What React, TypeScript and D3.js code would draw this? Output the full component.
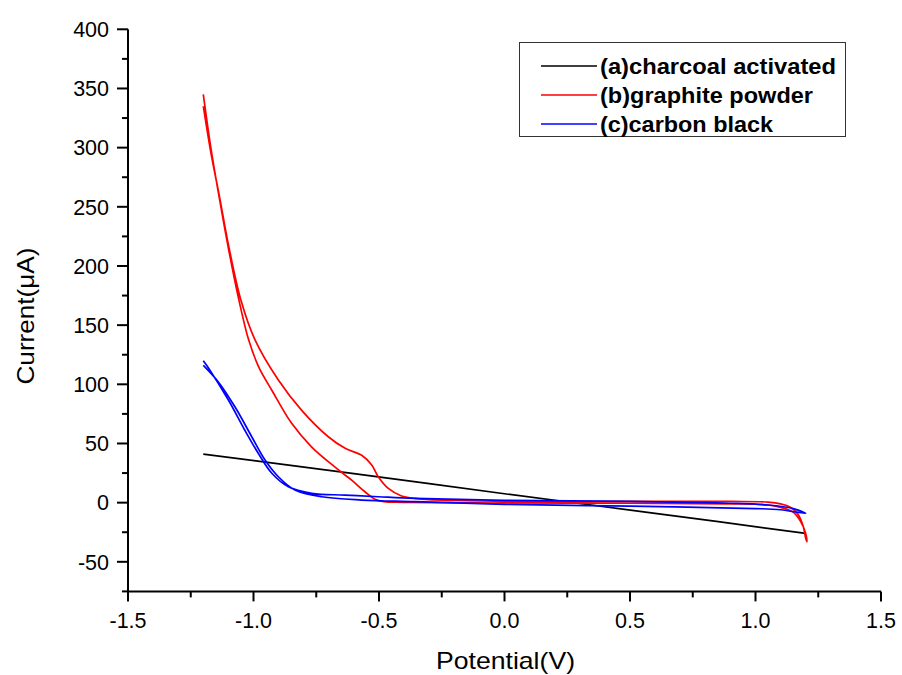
import React from "react";
import * as d3 from "d3";

const seriesNames = ["(a)charcoal activated", "(b)graphite powder", "(c)carbon black"];
const seriesColors = ["#000000", "#ff0000", "#0000ff"];
const legendTextWidths = [236, 213, 173];

// (a) charcoal activated: [potential V, current µA]
const charcoalV = [-1.2, -0.6, 0.0, 0.6, 1.2];
const charcoalI = [41, 24.5, 7.5, -9, -26];

// (b) graphite powder: closed loop (inner branch forward, outer branch back)
const graphiteV = [
  -1.2, -1.17, -1.135, -1.1, -1.06, -1.02, -0.98, -0.927, -0.848, -0.768, -0.675, -0.609, -0.556, -0.516, -0.48, -0.4,
  0.0, 0.5, 0.9, 1.05, 1.1, 1.15, 1.18, 1.2, 1.205,
  1.2, 1.19, 1.17, 1.14, 1.1, 1.05, 0.9, 0.5, 0.0, -0.2, -0.3, -0.357, -0.41, -0.463, -0.503, -0.529, -0.569,
  -0.635, -0.702, -0.808, -0.901, -0.994, -1.05, -1.1, -1.135, -1.17, -1.2,
];
const graphiteI = [
  345, 300, 256, 215, 173, 138, 115, 95, 67, 47, 30, 19, 9.2, 2.8, 0.8, 0.3,
  -0.3, -0.5, -1, -2, -4, -8, -16, -26, -33,
  -30, -20, -10, -4, -1, 0.5, 1, 1, 1, 1.8, 2.5, 3.6, 5.6, 12, 21.9, 31.8, 40,
  45.9, 55.7, 78, 103.6, 137.5, 171, 218, 258, 296, 335,
];

// (c) carbon black: closed loop
const carbonV = [
  -1.2, -1.18, -1.1, -1.034, -0.981, -0.927, -0.861, -0.768, -0.635, -0.503, -0.357, 0.0, 0.5, 0.9, 1.05, 1.15, 1.2,
  1.1, 1.0, 0.5, 0.0, -0.357, -0.569, -0.728, -0.835, -0.901, -0.954, -1.007, -1.074, -1.14, -1.2,
];
const carbonI = [
  120, 114, 86.7, 61, 41.7, 24.8, 13.4, 7.9, 6.4, 5, 3.6, 2, 1, -0.5, -2, -5, -9,
  -6, -5, -3, -1.5, 0.8, 2.2, 5, 10.7, 21.9, 36, 55.7, 81, 102, 116,
];

const xTicks = [-1.5, -1.0, -0.5, 0.0, 0.5, 1.0, 1.5];
const yTicks = [-50, 0, 50, 100, 150, 200, 250, 300, 350, 400];
const xMinor = [-1.25, -0.75, -0.25, 0.25, 0.75, 1.25];
const yMinor = [-75, -25, 25, 75, 125, 175, 225, 275, 325, 375];

export default function App() {
  const W = 902, H = 675;
  const x = d3.scaleLinear().domain([-1.5, 1.5]).range([128, 881]);
  const y = d3.scaleLinear().domain([-75, 400]).range([591.4, 29.3]);
  const line = d3
    .line<[number, number]>()
    .x((d) => x(d[0]))
    .y((d) => y(d[1]))
    .curve(d3.curveCatmullRom.alpha(0.5));

  const series = [
    charcoalV.map((v, i) => [v, charcoalI[i]] as [number, number]),
    graphiteV.map((v, i) => [v, graphiteI[i]] as [number, number]),
    carbonV.map((v, i) => [v, carbonI[i]] as [number, number]),
  ];

  const font = "'Liberation Sans', Arial, sans-serif";
  const x0 = x(-1.5);
  const yBase = y(-75);

  return (
    <svg
      width={W}
      height={H}
      style={{ position: "absolute", left: 0, top: 0, background: "#fff" }}
      fontFamily={font}
    >
      <rect width={W} height={H} fill="#fff" />
      {/* data */}
      {series.map((s, i) => (
        <path key={i} d={line(s) || ""} fill="none" stroke={seriesColors[i]} strokeWidth={1.7} strokeLinejoin="round" />
      ))}
      {/* axes */}
      <line x1={x0} x2={x0} y1={y(400)} y2={yBase} stroke="#000" strokeWidth={2} />
      <line x1={x0} x2={x(1.5)} y1={yBase} y2={yBase} stroke="#000" strokeWidth={2} />
      {yTicks.map((t) => (
        <g key={"y" + t}>
          <line x1={x0 - 11} x2={x0} y1={y(t)} y2={y(t)} stroke="#000" strokeWidth={2} />
          <text x={x0 - 19} y={y(t)} dy="0.36em" textAnchor="end" fontSize={21.5} fill="#000">
            {t}
          </text>
        </g>
      ))}
      {yMinor.map((t) => (
        <line key={"ym" + t} x1={x0 - 6} x2={x0} y1={y(t)} y2={y(t)} stroke="#000" strokeWidth={2} />
      ))}
      {xTicks.map((t) => (
        <g key={"x" + t}>
          <line x1={x(t)} x2={x(t)} y1={yBase} y2={yBase + 10} stroke="#000" strokeWidth={2} />
          <text x={x(t)} y={yBase + 37} textAnchor="middle" fontSize={21.5} fill="#000">
            {t.toFixed(1)}
          </text>
        </g>
      ))}
      {xMinor.map((t) => (
        <line key={"xm" + t} x1={x(t)} x2={x(t)} y1={yBase} y2={yBase + 6} stroke="#000" strokeWidth={2} />
      ))}
      {/* axis titles */}
      <text x={505.5} y={669} textAnchor="middle" fontSize={24} fill="#000" textLength={139} lengthAdjust="spacingAndGlyphs">
        Potential(V)
      </text>
      <text
        transform="translate(33.5,316) rotate(-90)"
        textAnchor="middle"
        fontSize={24}
        fill="#000"
        textLength={137}
        lengthAdjust="spacingAndGlyphs"
      >
        Current(μA)
      </text>
      {/* legend */}
      <rect x={519.5} y={42.5} width={326} height={94} fill="#fff" stroke="#333" strokeWidth={1} />
      {seriesNames.map((n, i) => (
        <g key={n}>
          <line x1={541} x2={597} y1={66 + i * 29} y2={66 + i * 29} stroke={seriesColors[i]} strokeWidth={1.7} />
          <text
            x={600}
            y={66 + i * 29}
            dy="0.36em"
            fontSize={21.5}
            fontWeight="bold"
            fill="#000"
            textLength={legendTextWidths[i]}
            lengthAdjust="spacingAndGlyphs"
          >
            {n}
          </text>
        </g>
      ))}
    </svg>
  );
}
